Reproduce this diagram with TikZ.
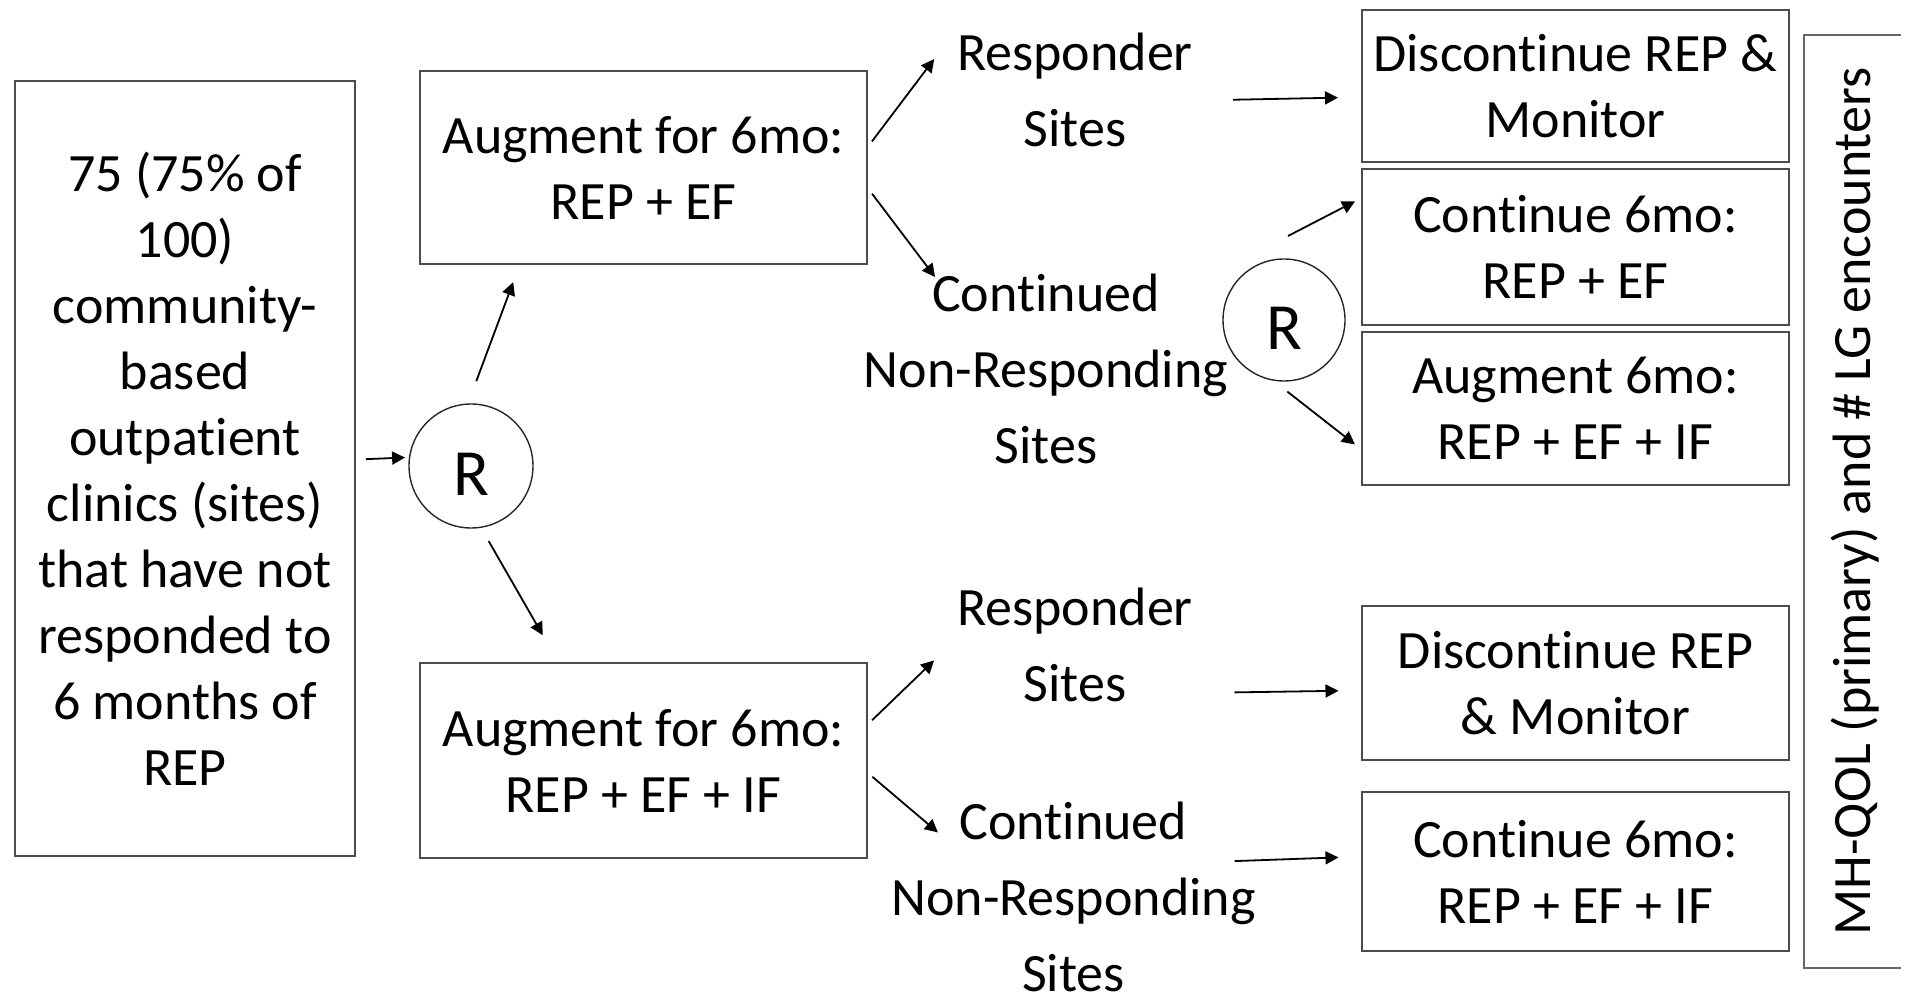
\documentclass[tikz,border=0pt]{standalone}
\usepackage{fontspec}
\setmainfont{Carlito}[RawFeature=-liga]
\usetikzlibrary{arrows.meta}

\begin{document}
\begin{tikzpicture}[x=0.5pt,y=-0.5pt,>={Triangle[length=6.5pt,width=6.5pt]},
    every node/.style={inner sep=0pt,outer sep=0pt,align=center,font=\fontsize{27}{33}\selectfont},
    armbox/.style={draw=black!70,line width=1pt},
    sitetext/.style={font=\fontsize{27}{38}\selectfont},
    rand/.style={circle,draw=black!85,line width=0.7pt,text height=29.5pt,font=\fontsize{33}{33}\selectfont},
    arr/.style={->,line width=0.9pt}]
        \useasboundingbox (0,0) rectangle (1907,1005);
        \node[armbox,minimum width=170pt,minimum height=387.5pt] (sites) at (185,468.5)
            {75 (75\% of\\100)\\community-\\based\\outpatient\\clinics (sites)\\that have not\\responded to\\6 months of\\REP};
        \node[rand,minimum size=62pt] (rA) at (471,466) {R};
        \node[armbox,minimum width=223.5pt,minimum height=96.5pt] (augA) at (643.5,167.5) {Augment for 6mo:\\REP + EF};
        \node[armbox,minimum width=223.5pt,minimum height=97.5pt] (augB) at (643.5,760.5) {Augment for 6mo:\\REP + EF + IF};
        \node[sitetext,minimum width=120pt,minimum height=76pt] (respA) at (1075,90) {Responder\\Sites};
        \node[sitetext,minimum width=190pt,minimum height=95pt] (nonA) at (1046,369) {Continued\\Non-Responding\\Sites};
        \node[sitetext,minimum width=120pt,minimum height=76pt] (respB) at (1075,644.5) {Responder\\Sites};
        \node[sitetext,minimum width=190pt,minimum height=95pt] (nonB) at (1073.5,897) {Continued\\Non-Responding\\Sites};
        \node[rand,minimum size=61pt] (rB) at (1284,320) {R};
        \node[armbox,minimum width=213.5pt,minimum height=76pt] (discA) at (1575.5,86) {Discontinue REP \&\\Monitor};
        \node[armbox,minimum width=213.5pt,minimum height=78pt] (contA) at (1575.5,247) {Continue 6mo:\\REP + EF};
        \node[armbox,minimum width=213.5pt,minimum height=76.5pt] (augC) at (1575.5,408.5) {Augment 6mo:\\REP + EF + IF};
        \node[armbox,minimum width=213.5pt,minimum height=77pt] (discB) at (1575.5,683) {Discontinue REP\\\& Monitor};
        \node[armbox,minimum width=213.5pt,minimum height=79.5pt] (contB) at (1575.5,871.5) {Continue 6mo:\\REP + EF + IF};
        \node[rotate=90] (outcome) at (1855,501.5) {MH-QOL (primary) and \# LG encounters};
        \draw[draw=black!60,line width=1pt] (1901,35) -- (1804,35) -- (1804,968) -- (1901,968);

        \draw[arr,shorten <=5.5pt,shorten >=2.25pt] (sites.3.5) -- (rA.172.6);
        \draw[arr,shorten <=12.2pt,shorten >=9.7pt] (rA.93) -- (augA.218.7);
        \draw[arr,shorten <=8pt,shorten >=16pt] (rA.279.3) -- (augB.131.3);
        \draw[arr,shorten <=4.1pt,shorten >=17.3pt] (augA.5.4) -- (respA.154);
        \draw[arr,shorten <=4.2pt,shorten >=-1.9pt] (augA.355) -- (nonA.140.5);
        \draw[arr,shorten <=3.5pt,shorten >=14.5pt] (augB.9.1) -- (respB.178.3);
        \draw[arr,shorten <=3.5pt,shorten >=-23.5pt] (augB.357.5) -- (nonB.151.4);
        \draw[arr,shorten <=19pt,shorten >=12pt] (respA.355.2) -- (discA.183.75);
        \draw[arr,shorten <=19.75pt,shorten >=11.75pt] (respB.338.4) -- (discB.182.4);
        \draw[arr,shorten <=-14.5pt,shorten >=11.75pt] (nonB.11.6) -- (contB.176.4);
        \draw[arr,shorten >=3.9pt] ([shift={(2pt,11.5pt)}]rB.north) -- (contA.167.5);
        \draw[arr,shorten <=9.5pt,shorten >=4.5pt] (rB.259.7) -- (augC.191.4);
      \end{tikzpicture}
\end{document}
